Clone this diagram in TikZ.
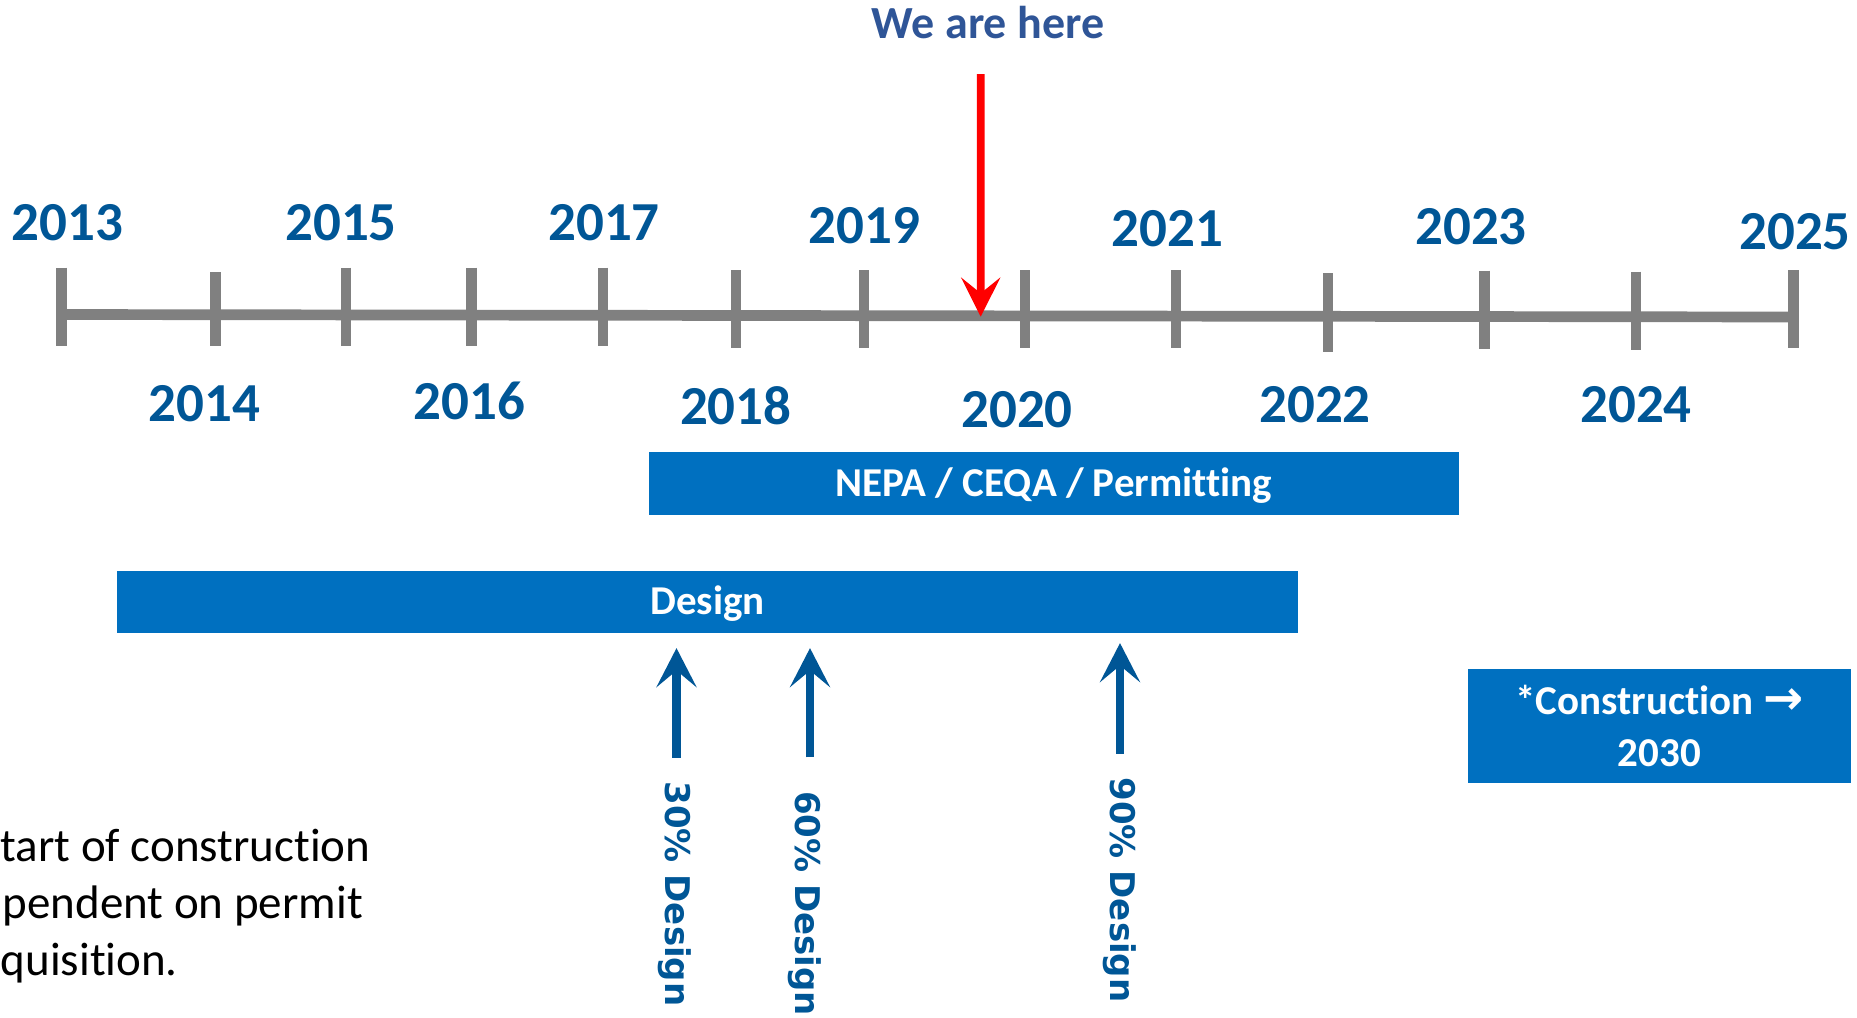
\documentclass[tikz,border=0pt]{standalone}
\usepackage{fontspec}
\setmainfont{Carlito}[Ligatures=NoCommon]
\newfontfamily\dejavu{DejaVu Sans}
\usetikzlibrary{arrows.meta}

\tikzset{every picture/.style={line width=0.75pt}}
\tikzset{
  axisline/.style={color={rgb, 255:red, 128; green, 128; blue, 128 }, line width=5.35pt},
  tickline/.style={color={rgb, 255:red, 128; green, 128; blue, 128 }, line width=5.2pt},
  yearlbl/.style={text={rgb, 255:red, 0; green, 86; blue, 150 }, font=\fontsize{27.5}{33}\selectfont\bfseries, inner sep=0pt},
  herelbl/.style={text={rgb, 255:red, 47; green, 85; blue, 151 }, font=\fontsize{23}{28}\selectfont\bfseries, inner sep=0pt, anchor=base},
  herearrow/.style={color={rgb, 255:red, 255; green, 0; blue, 0 }, line width=3.85pt, -{Stealth[length=19.5pt, width=19.5pt, inset=7.8pt]}},
  phasebar/.style={fill={rgb, 255:red, 0; green, 112; blue, 192 }, text=white, font=\fontsize{20.5}{25.85}\selectfont\bfseries, inner sep=0pt, text height=12.5pt, text depth=0pt},
  constrbox/.style={fill={rgb, 255:red, 0; green, 112; blue, 192 }, text=white, font=\fontsize{20.5}{25.85}\selectfont\bfseries, inner sep=0pt, align=center},
  mslbl/.style={text={rgb, 255:red, 0; green, 86; blue, 150 }, font=\dejavu\bfseries\fontsize{17}{20}\selectfont, rotate=-90, inner sep=0pt},
  msarrow/.style={color={rgb, 255:red, 0; green, 86; blue, 150 }, line width=4.15pt, -{Stealth[length=19.5pt, width=20pt, inset=8.3pt]}},
  notetext/.style={font=\fontsize{23.5}{28.3}\selectfont, anchor=base west, inner sep=0pt}
}

\begin{document}
\begin{tikzpicture}[x=0.5pt,y=0.5pt,yscale=-1,xscale=1]
\useasboundingbox (0,0) rectangle (1857,1017);

%Straight Lines (time line)
\coordinate (tl0) at (61.6,314.5);
\coordinate (tl1) at (1794.2,317);
\draw[axisline] (tl0) -- (tl1);
%Straight Lines (ticks)
\draw[tickline] (61.6,267.7) -- (61.6,345.7);
\draw[tickline] (215.5,272.3) -- (215.5,345.7);
\draw[tickline] (345.8,267.7) -- (345.8,345.7);
\draw[tickline] (471.4,267.7) -- (471.4,345.7);
\draw[tickline] (602.8,267.7) -- (602.8,345.7);
\draw[tickline] (736,270) -- (736,348);
\draw[tickline] (864,270) -- (864,348);
\draw[tickline] (1024.7,270) -- (1024.7,348);
\draw[tickline] (1176,270) -- (1176,348.3);
\draw[tickline] (1327.7,273.3) -- (1327.7,351.7);
\draw[tickline] (1484.5,270.7) -- (1484.5,349);
\draw[tickline] (1636,271.7) -- (1636,350);
\draw[tickline] (1793.5,270) -- (1793.5,348.3);

% Text Node (years above)
\node[yearlbl] (y2013) at (67.6,223) {2013};
\node[yearlbl] (y2015) at (341,223) {2015};
\node[yearlbl] (y2017) at (604,223) {2017};
\node[yearlbl] (y2019) at (864.5,225.5) {2019};
\node[yearlbl] (y2021) at (1167.6,229) {2021};
\node[yearlbl] (y2023) at (1471,226.5) {2023};
\node[yearlbl] (y2025) at (1795,231.5) {2025};
% Text Node (years below)
\node[yearlbl] (y2014) at (204.7,404) {2014};
\node[yearlbl] (y2016) at (469.5,401.3) {2016};
\node[yearlbl] (y2018) at (735.8,405.5) {2018};
\node[yearlbl] (y2020) at (1017,410) {2020};
\node[yearlbl] (y2022) at (1315,405) {2022};
\node[yearlbl] (y2024) at (1636,405) {2024};

% Text Node
\node[herelbl] (here) at (988,39) {We are here};
\coordinate (now) at (980.7,316.7);
%Straight Lines
\draw[herearrow, shorten <=17pt] ([xshift=-3.65pt]here.south) -- (now);

%Shape: Rectangle
\node[phasebar, minimum width=405pt, minimum height=31.35pt] (nepa) at (1054,483.6) {NEPA / CEQA / Permitting};
%Shape: Rectangle
\node[phasebar, minimum width=590.5pt, minimum height=31.15pt] (design) at (707.5,602.2) {Design};
%Shape: Rectangle
\node[constrbox, minimum width=191.65pt, minimum height=57.15pt] (constr) at (1659.3,726.2) {*Construction {\dejavu\bfseries\fontsize{24}{24}\selectfont →}\\2030};

% Text Node (milestones)
\node[mslbl] (ms30) at (675,894) {30\% Design};
\node[mslbl] (ms60) at (805,903.5) {60\% Design};
\node[mslbl] (ms90) at (1120,890) {90\% Design};
%Straight Lines
\draw[msarrow, shorten <=11.5pt, shorten >=7pt] ([xshift=0.75pt]ms30.west) -- ([xshift=0.75pt]ms30.west |- design.south);
\draw[msarrow, shorten <=16.5pt, shorten >=7pt] ([xshift=2.5pt]ms60.west) -- ([xshift=2.5pt]ms60.west |- design.south);
\draw[msarrow, shorten <=11.5pt, shorten >=4.5pt] (ms90.west) -- (ms90.west |- design.south);

% Text Node
\node[notetext] (note1) at (0,861.7) {tart of construction};
\node[notetext] (note2) at (2,918) {pendent on permit};
\node[notetext] (note3) at (0,975) {quisition.};

\end{tikzpicture}
\end{document}
